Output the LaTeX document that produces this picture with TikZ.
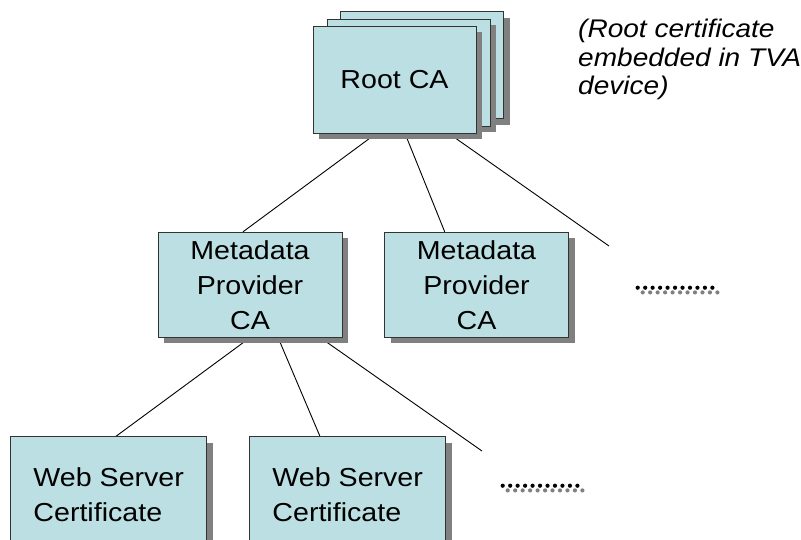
\documentclass[tikz,border=0pt]{standalone}
\usepackage{fontspec}
\setmainfont{Liberation Sans}[FakeStretch=1.1]
\usepackage{tikz}
\usetikzlibrary{shadows, calc, backgrounds}
\definecolor{boxfill}{HTML}{BBDFE2}
\definecolor{boxshade}{HTML}{808080}
\tikzstyle{cabox} = [draw=black!80, line width=0.8pt, fill=boxfill, inner sep=0pt, align=center,
    drop shadow={shadow xshift=6pt, shadow yshift=-6pt, fill=boxshade, opacity=1},
    font=\fontsize{26}{35}\selectfont]
\tikzstyle{link} = [line width=0.9pt]

\begin{document}
\begin{tikzpicture}[x=1pt, y=-1pt]
    \useasboundingbox (0,0) rectangle (801,539);

    % Root CA (stacked)
    \node[cabox, minimum width=163pt, minimum height=107pt] (rootback) at (422,65.3) {};
    \node[cabox, minimum width=163pt, minimum height=107pt] (rootmid) at (408.5,72.5) {};
    \node[cabox, minimum width=163pt, minimum height=107pt] (root) at (394.5,79.5) {Root CA};
    \node[inner sep=0pt, anchor=north west, align=left, font=\fontsize{25.5}{28.5}\selectfont\itshape]
        (rootnote) at (578,19) {(Root certificate\\embedded in TVA\\device)};

    % Metadata provider CAs
    \node[cabox, minimum width=184pt, minimum height=105pt] (meta1) at (250,284.7) {Metadata\\Provider\\CA};
    \node[cabox, minimum width=184pt, minimum height=105pt] (meta2) at (476.5,284.7) {Metadata\\Provider\\CA};

    % Web server certificates
    \node[cabox, align=left, minimum width=196pt, minimum height=115pt] (web1) at (108.7,494.2) {Web Server\\Certificate};
    \node[cabox, align=left, minimum width=196pt, minimum height=115pt] (web2) at (347.7,494.2) {Web Server\\Certificate};

    % "more" markers
    \foreach \x/\y in {637.7/287.7, 502.7/485.7} {
        \foreach \i in {0,...,10} {
            \fill[boxshade] (\x+\i*7.47+5, \y+4.7) circle (2.1pt);
            \fill (\x+\i*7.47, \y) circle (2.1pt);
        }
    }
    \coordinate (rootmore) at (609,246);
    \coordinate (metamore) at (482,451);

    % Links
    \begin{scope}[on background layer]
    \draw[link] ($(root.south west)!0.389!(root.south east)$) -- ($(meta1.north west)!0.462!(meta1.north east)$);
    \draw[link] ($(root.south west)!0.564!(root.south east)$) -- ($(meta2.north west)!0.328!(meta2.north east)$);
    \draw[link] ($(root.south west)!0.831!(root.south east)$) -- (rootmore);
    \draw[link] ($(meta1.south west)!0.5!(meta1.south east)$) -- ($(web1.north west)!0.537!(web1.north east)$);
    \draw[link] ($(meta1.south west)!0.652!(meta1.south east)$) -- ($(web2.north west)!0.359!(web2.north east)$);
    \draw[link] ($(meta1.south west)!0.88!(meta1.south east)$) -- (metamore);
    \end{scope}
\end{tikzpicture}
\end{document}
